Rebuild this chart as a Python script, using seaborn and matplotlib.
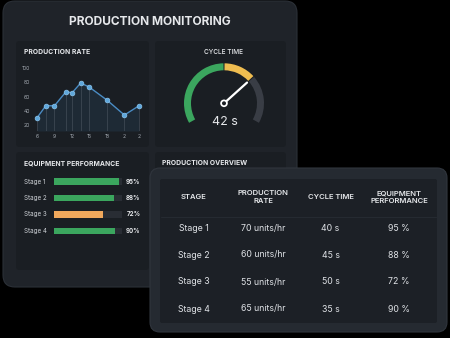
import matplotlib
matplotlib.use("Agg")
import matplotlib.pyplot as plt
from matplotlib.patches import FancyBboxPatch, Wedge, Circle
import numpy as np
import pandas as pd
import seaborn as sns

# ---------------- data ----------------
title = "PRODUCTION MONITORING"
hours = [6, 7.5, 9, 11, 12, 13.5, 15, 18, 21, 23.5]
rate = [30, 47, 47, 67, 65, 79, 73, 55, 34, 47]
x_ticks = [6, 9, 12, 15, 18, 21, 23.5]
x_tick_labels = ["6", "9", "12", "15", "18", "2", "2"]
y_ticks = [20, 40, 60, 80, 100]

cycle_value = 42
gauge_max = 60
gauge_bands = [(0, 30), (30, 42), (42, 60)]

stages = ["Stage 1", "Stage 2", "Stage 3", "Stage 4"]
perf = [95, 88, 72, 90]
perf_labels = ["95%", "88%", "72%", "90%"]

tbl_header = ["STAGE", "PRODUCTION\nRATE", "CYCLE TIME", "EQUIPMENT\nPERFORMANCE"]
tbl_rate = ["70 units/hr", "60 units/hr", "55 units/hr", "65 units/hr"]
tbl_cycle = ["40 s", "45 s", "50 s", "35 s"]
tbl_perf = ["95 %", "88 %", "72 %", "90 %"]

# ---------------- style ----------------
sns.set_theme(style="dark")
plt.rcParams["font.family"] = ["Inter", "DejaVu Sans"]

W, H = 450, 338
fig = plt.figure(figsize=(W / 100, H / 100), dpi=100, facecolor="black")
bg = fig.add_axes([0, 0, 1, 1])
bg.set_xlim(0, W)
bg.set_ylim(H, 0)
bg.axis("off")
bg.set_facecolor("black")

def box(x0, y0, x1, y1, r, fc, ec="none", lw=0, z=1):
    p = FancyBboxPatch((x0 + r, y0 + r), (x1 - x0) - 2 * r, (y1 - y0) - 2 * r,
                       boxstyle=f"round,pad={r}", fc=fc, ec=ec, lw=lw, zorder=z)
    bg.add_patch(p)

def fa(x0, y0, x1, y1):
    return [x0 / W, 1 - y1 / H, (x1 - x0) / W, (y1 - y0) / H]

PANEL = "#1f2329"
SUB = "#1a1e23"
TXT = "#e6e8eb"

# main dashboard
box(3, 1, 297, 287, 12, PANEL, ec="#2b3037", lw=0.8, z=1)
bg.text(150, 22, title, ha="center", va="center", color=TXT, fontsize=8.6,
        fontweight="bold", zorder=5)
# sub panels
box(16, 41, 149, 147, 3, SUB, z=2)
box(155, 41, 286, 147, 3, SUB, z=2)
box(16, 152, 149, 270, 3, SUB, z=2)
box(155, 152, 286, 270, 3, SUB, z=2)

bg.text(24, 52, "PRODUCTION RATE", ha="left", va="center", color=TXT,
        fontsize=4.9, fontweight="bold", zorder=5)
bg.text(224, 52, "CYCLE TIME", ha="center", va="center", color=TXT,
        fontsize=4.7, fontweight="medium", zorder=5)
bg.text(24, 163, "EQUIPMENT PERFORMANCE", ha="left", va="center", color=TXT,
        fontsize=4.9, fontweight="bold", zorder=5)
bg.text(162, 163, "PRODUCTION OVERVIEW", ha="left", va="center", color=TXT,
        fontsize=4.9, fontweight="bold", zorder=5)

# ---------------- line chart ----------------
axl = fig.add_axes(fa(31, 63, 144, 131))
axl.set_facecolor("none")
df = pd.DataFrame({"hour": hours, "rate": rate})
ylo = 11.6
axl.fill_between(hours, rate, ylo, color="#3f7fb5", alpha=0.13, lw=0)
axl.vlines(hours, ylo, rate, color="#5b6470", lw=0.5, alpha=0.6)
sns.lineplot(data=df, x="hour", y="rate", ax=axl, color="#4a8cc4", lw=1.0,
             marker="o", markersize=3.4, markerfacecolor="#5fa8dc",
             markeredgecolor="#8cc4ec", markeredgewidth=0.5)
axl.set_xlim(4.97, 24.36)
axl.set_ylim(ylo, 107)
axl.set_xticks(x_ticks)
axl.set_xticklabels(x_tick_labels)
axl.set_yticks(y_ticks)
axl.set_yticklabels([str(v) for v in y_ticks])
axl.tick_params(axis="both", length=0, labelsize=3.7, colors="#a3a9b1")
axl.tick_params(axis="x", pad=2.0)
axl.tick_params(axis="y", pad=0.8)
axl.set_xlabel("")
axl.set_ylabel("")
axl.grid(False)
for s in axl.spines.values():
    s.set_visible(False)

# ---------------- gauge ----------------
axg = fig.add_axes(fa(174, 53.3, 274, 153.3))
axg.set_xlim(-50, 50)
axg.set_ylim(-50, 50)
axg.axis("off")
gcolors = ["#3ba65e", "#efbd50", "#393d45"]
def ang(v):
    return 210 - v / gauge_max * 240
for (a, b), c in zip(gauge_bands, gcolors):
    t1, t2 = ang(b), ang(a)
    axg.add_patch(Wedge((0, 0), 40, t1 + 0.8, t2 - 0.8, width=7, fc=c, ec="none"))
th = np.deg2rad(ang(cycle_value))
axg.plot([0, 31 * np.cos(th)], [0, 31 * np.sin(th)], color="white", lw=1.6,
         solid_capstyle="round")
axg.add_patch(Circle((0, 0), 3.8, fc="white", ec="none", zorder=5))
axg.add_patch(Circle((0, 0), 2.0, fc=SUB, ec="none", zorder=6))
bg.text(224.5, 122, f"{cycle_value} s", ha="center", va="center", color=TXT,
        fontsize=9, zorder=5)

# ---------------- equipment performance bars ----------------
axb = fig.add_axes(fa(54, 173.5, 122, 239.1))
axb.set_facecolor("none")
dfb = pd.DataFrame({"stage": stages, "perf": perf, "track": [100] * len(stages)})
sns.barplot(data=dfb, x="track", y="stage", color="#292d34", width=0.41,
            ax=axb, orient="h", saturation=1, linewidth=0, edgecolor="none")
sns.barplot(data=dfb, x="perf", y="stage", hue="stage",
            palette=["#3ba65e", "#3ba65e", "#f0a85c", "#3ba65e"], width=0.41,
            ax=axb, orient="h", legend=False, saturation=1, linewidth=0,
            edgecolor="none")
axb.set_xlim(0, 100)
axb.axis("off")
row_y = [181.7, 197.8, 214.2, 230.8]
for st, pl, yy in zip(stages, perf_labels, row_y):
    bg.text(23.5, yy, st, ha="left", va="center", color="#d0d4d9",
            fontsize=4.5, zorder=5)
    bg.text(133.5, yy, pl, ha="center", va="center", color=TXT,
            fontsize=4.5, fontweight="bold", zorder=5)

# ---------------- overview table card ----------------
box(150, 168, 447, 332, 10, "#252a31", ec="#30353d", lw=0.8, z=6)
box(160, 179, 437, 323, 2, "#1c2026", z=7)
bg.plot([161, 436], [217, 217], color="#252a31", lw=0.8, zorder=8)
col_x = [193.5, 263, 330.5, 399]
for cx, h in zip(col_x, tbl_header):
    bg.text(cx, 197, h, ha="center", va="center", color=TXT, fontsize=5.5,
            fontweight="semibold", linespacing=1.25, zorder=9)
trow_y = [228.5, 255, 282, 309]
for i, yy in enumerate(trow_y):
    vals = [stages[i], tbl_rate[i], tbl_cycle[i], tbl_perf[i]]
    for cx, v in zip(col_x, vals):
        bg.text(cx, yy, v, ha="center", va="center", color="#dfe2e6",
                fontsize=6.3, zorder=9)

fig.savefig("out.png", dpi=100, facecolor="black")
